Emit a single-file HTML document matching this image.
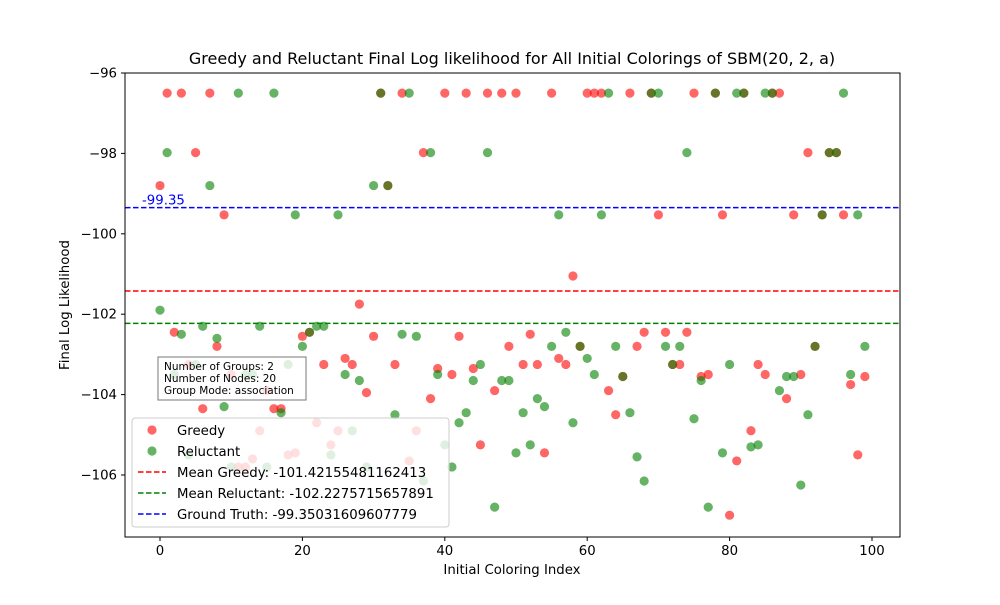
<!DOCTYPE html>
<html><head><meta charset="utf-8"><style>
body{margin:0;background:#fff;}
svg text{font-family:"DejaVu Sans","Liberation Sans",sans-serif;}
</style></head><body>
<svg id="chart" width="1000" height="600" viewBox="0 0 1000 600" xmlns="http://www.w3.org/2000/svg">
<rect width="1000" height="600" fill="#fff"/>
<text x="512" y="64" font-size="16" text-anchor="middle">Greedy and Reluctant Final Log likelihood for All Initial Colorings of SBM(20, 2, a)</text>
<g id="marks"></g>
<g id="axes"></g>
<rect x="125" y="73" width="775" height="464" fill="none" stroke="#000" stroke-width="1"/>
<text x="512" y="574" font-size="13.3" text-anchor="middle">Initial Coloring Index</text>
<text transform="translate(69,305) rotate(-90)" font-size="13.3" text-anchor="middle">Final Log Likelihood</text>
<g>
<rect x="158" y="357" width="148" height="43" fill="#fff" fill-opacity="0.8" stroke="#777" stroke-width="1"/>
<text x="164" y="370" font-size="10.5">Number of Groups: 2</text>
<text x="164" y="382" font-size="10.5">Number of Nodes: 20</text>
<text x="164" y="394" font-size="10.5">Group Mode: association</text>
</g>
<g>
<rect x="132" y="418" width="317" height="109" rx="3" fill="#fff" fill-opacity="0.8" stroke="#ccc"/>
<g><circle cx="152" cy="430" r="4.6" fill="red" fill-opacity="0.6"/><text x="177" y="435" font-size="13.3">Greedy</text></g>
<g><circle cx="152" cy="451" r="4.6" fill="green" fill-opacity="0.6"/><text x="177" y="456" font-size="13.3">Reluctant</text></g>
<g><line x1="138" x2="166" y1="472" y2="472" stroke="red" stroke-width="1.5" stroke-dasharray="5.5,2.5"/><text x="177" y="477" font-size="13.3">Mean Greedy: -101.42155481162413</text></g>
<g><line x1="138" x2="166" y1="493" y2="493" stroke="green" stroke-width="1.5" stroke-dasharray="5.5,2.5"/><text x="177" y="498" font-size="13.3">Mean Reluctant: -102.2275715657891</text></g>
<g><line x1="138" x2="166" y1="514" y2="514" stroke="blue" stroke-width="1.5" stroke-dasharray="5.5,2.5"/><text x="177" y="519" font-size="13.3">Ground Truth: -99.35031609607779</text></g>
</g>
</svg>
<script>
const greedy=[-98.8,-96.5,-102.45,-96.5,-103.25,-97.98,-104.35,-96.5,-102.8,-99.53,
-103.5,-105.8,-105.8,-105.6,-104.9,-103.9,-104.35,-104.35,-105.5,-105.45,
-102.55,-102.45,-104.7,-103.25,-105.25,-104.9,-103.1,-103.25,-101.75,-103.95,
-102.55,-96.5,-98.8,-103.25,-96.5,-105.65,-104.9,-97.98,-104.1,-103.35,
-96.5,-103.5,-102.55,-96.5,-103.35,-105.25,-96.5,-103.9,-96.5,-102.8,
-96.5,-103.25,-102.5,-103.25,-105.45,-96.5,-103.1,-103.25,-101.05,-102.8,
-96.5,-96.5,-96.5,-103.9,-104.5,-103.55,-96.5,-102.8,-102.45,-96.5,
-99.53,-102.45,-103.25,-103.25,-102.45,-96.5,-103.55,-103.5,-96.5,-99.53,
-107.0,-105.65,-96.5,-104.9,-103.25,-103.5,-96.5,-96.5,-104.1,-99.53,
-103.5,-97.98,-102.8,-99.53,-97.98,-97.98,-99.53,-103.75,-105.5,-103.55];
const reluctant=[-101.9,-97.98,-103.5,-102.5,-105.5,-103.25,-102.3,-98.8,-102.6,-104.3,
-105.8,-96.5,-103.5,-103.5,-102.3,-105.8,-96.5,-104.45,-103.25,-99.53,
-102.8,-102.45,-102.3,-102.3,-105.5,-99.53,-103.5,-104.9,-103.65,-105.8,
-98.8,-96.5,-98.8,-104.5,-102.5,-96.5,-102.55,-106.15,-97.98,-103.5,
-105.25,-105.8,-104.7,-104.45,-103.65,-103.25,-97.98,-106.8,-103.65,-103.65,
-105.45,-104.45,-105.25,-104.1,-104.3,-102.8,-99.53,-102.45,-104.7,-102.8,
-103.1,-103.5,-99.53,-96.5,-102.8,-103.55,-104.45,-105.55,-106.15,-96.5,
-96.5,-102.8,-103.25,-102.8,-97.98,-104.6,-103.65,-106.8,-96.5,-105.45,
-103.25,-96.5,-96.5,-105.3,-105.25,-96.5,-96.5,-103.9,-103.55,-103.55,
-106.25,-104.5,-102.8,-99.53,-97.98,-97.98,-96.5,-103.5,-99.53,-102.8];
const meanGreedy=-101.42155481162413;
const meanReluctant=-102.2275715657891;
const groundTruth=-99.35031609607779;
const xTicks=[0,20,40,60,80,100];
const yTicks=[-96,-98,-100,-102,-104,-106];

const X=v=>160+7.12*v;
const Y=v=>73+(-96-v)*40.2;
const NS="http://www.w3.org/2000/svg";
const marks=document.getElementById('marks');
const axes=document.getElementById('axes');
function mk(tag,attrs,parent){const e=document.createElementNS(NS,tag);for(const k in attrs)e.setAttribute(k,attrs[k]);parent.appendChild(e);return e;}
greedy.forEach((v,i)=>{
 const c=mk('circle',{cx:X(i),cy:Y(v),r:4.6,fill:'red','fill-opacity':0.6},marks);
 
 
});
reluctant.forEach((v,i)=>{
 const c=mk('circle',{cx:X(i),cy:Y(v),r:4.6,fill:'green','fill-opacity':0.6},marks);
 
 
});
[[meanGreedy,'red','mean-greedy-line'],[meanReluctant,'green','mean-reluctant-line'],[groundTruth,'blue','ground-truth-line']].forEach(([v,col,n])=>{
 const l=mk('line',{x1:125,x2:900,y1:Y(v),y2:Y(v),stroke:col,'stroke-width':1.5,'stroke-dasharray':'5.5,2.5'},marks);
 
 
});
const gl=mk('text',{x:142,y:Y(groundTruth)-3,'font-size':13.3,fill:'blue'},marks);


gl.textContent=groundTruth.toFixed(2);
xTicks.forEach(t=>{
 const tk=mk('line',{x1:X(t),x2:X(t),y1:537,y2:541,stroke:'#000'},axes);
 
 
 const tx=mk('text',{x:X(t),y:555,'font-size':13.3,'text-anchor':'middle'},axes);
 
 
 tx.textContent=t;
});
yTicks.forEach(t=>{
 const tk=mk('line',{x1:121,x2:125,y1:Y(t),y2:Y(t),stroke:'#000'},axes);
 
 
 const tx=mk('text',{x:117,y:Y(t)+4.5,'font-size':13.3,'text-anchor':'end'},axes);
 
 
 tx.textContent='\u2212'+Math.abs(t);
});
</script>
</body></html>
